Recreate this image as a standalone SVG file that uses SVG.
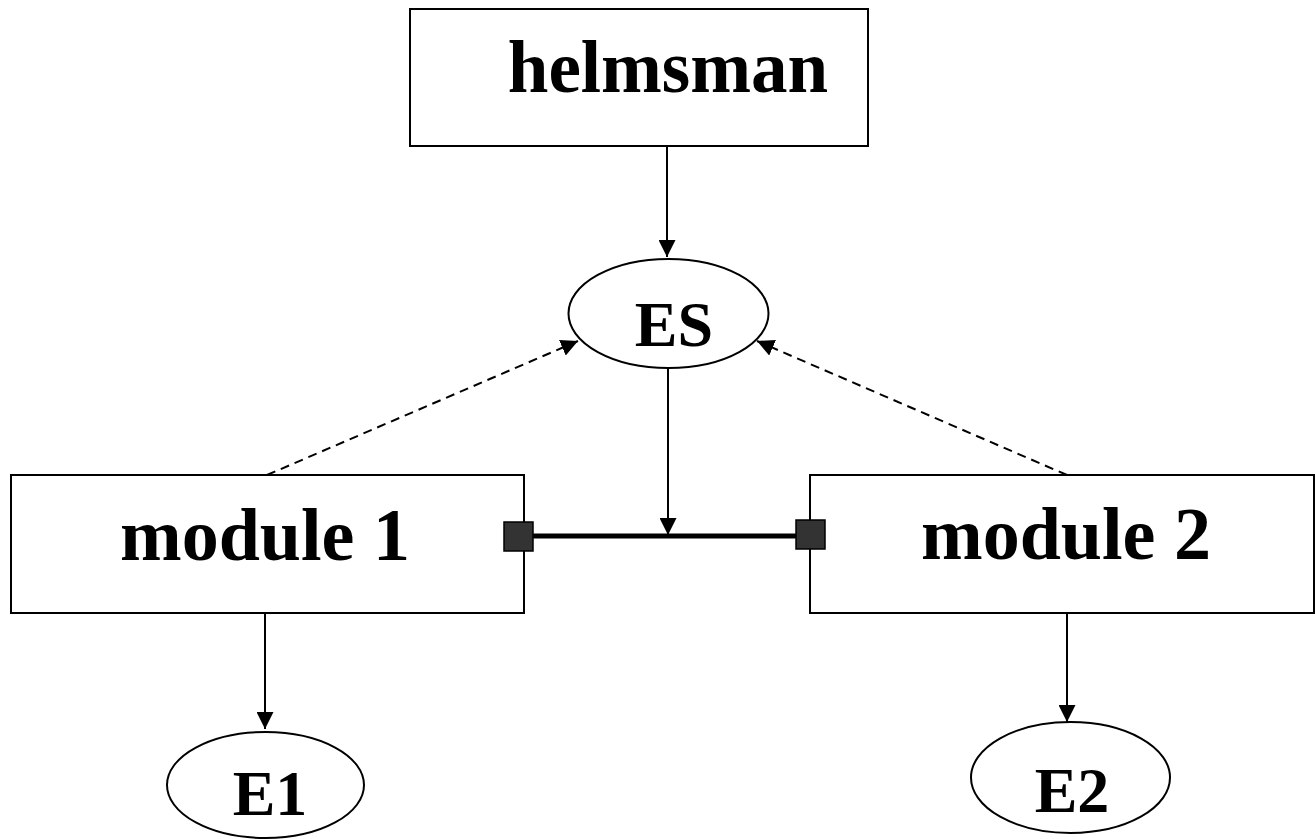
<svg xmlns="http://www.w3.org/2000/svg" width="1315" height="839" viewBox="0 0 1315 839">
<defs>
<style>
.box{fill:#fff;stroke:#000;stroke-width:2}
.ell{fill:#fff;stroke:#000;stroke-width:2}
.lbl{font-family:"Liberation Serif","Times New Roman",serif;font-weight:bold;fill:#000;text-anchor:middle}
.arr{stroke:#000;stroke-width:2;fill:none;marker-end:url(#ah)}
.dash{stroke:#000;stroke-width:2;fill:none;stroke-dasharray:9 6;marker-end:url(#ah)}
.bus{stroke:#000;stroke-width:5;fill:none}
.port{fill:#333;stroke:#000;stroke-width:1.5}
</style>
<marker id="ah" markerUnits="userSpaceOnUse" markerWidth="18" markerHeight="17" refX="17" refY="8.5" orient="auto" viewBox="0 0 18 17">
<path d="M0,0 L17,8.5 L0,17 z" fill="#000"/>
</marker>
</defs>
<rect width="1315" height="839" fill="#fff"/>
<g id="connectors">
<line class="arr" x1="667" y1="146" x2="667" y2="257"/>
<line class="arr" x1="668" y1="368" x2="668" y2="535"/>
<line class="bus" x1="533" y1="536" x2="796" y2="536"/>
<line class="dash" x1="267" y1="475" x2="578" y2="341"/>
<line class="dash" x1="1067" y1="475" x2="757" y2="341"/>
<line class="arr" x1="265" y1="613" x2="265" y2="729"/>
<line class="arr" x1="1067" y1="613" x2="1067" y2="722"/>
</g>
<g id="helmsman">
<rect class="box" x="410" y="9" width="458" height="137"/>
<text class="lbl" x="668" y="92" font-size="73">helmsman</text>
</g>
<g id="ES">
<ellipse class="ell" cx="668.5" cy="313.5" rx="100" ry="54.5"/>
<text class="lbl" x="674" y="346" font-size="64">ES</text>
</g>
<g id="module1">
<rect class="box" x="11" y="475" width="513" height="138"/>
<text class="lbl" x="265" y="560" font-size="74">module 1</text>
<rect class="port" x="504" y="522" width="29" height="29"/>
</g>
<g id="module2">
<rect class="box" x="810" y="475" width="504" height="138"/>
<text class="lbl" x="1066" y="559" font-size="74">module 2</text>
<rect class="port" x="796" y="520" width="29" height="29"/>
</g>
<g id="E1">
<ellipse class="ell" cx="265.5" cy="785" rx="98.5" ry="53"/>
<text class="lbl" x="270" y="815" font-size="64">E1</text>
</g>
<g id="E2">
<ellipse class="ell" cx="1070.5" cy="777.5" rx="99.5" ry="55.5"/>
<text class="lbl" x="1072" y="812" font-size="64">E2</text>
</g>
</svg>
